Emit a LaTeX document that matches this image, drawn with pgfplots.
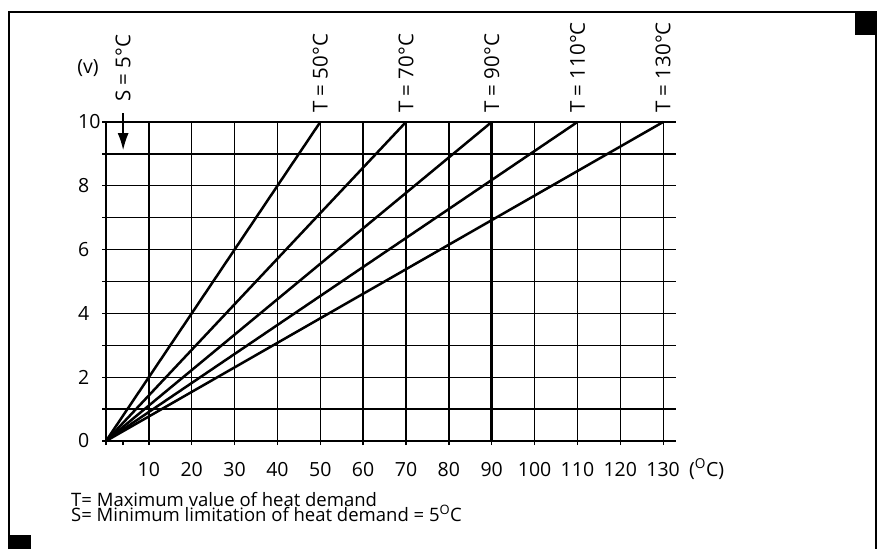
\documentclass[border=0pt]{standalone}
\usepackage{fontspec}
\setmainfont{Open Sans}
\usepackage{pgfplots}
\pgfplotsset{compat=1.18}
\usetikzlibrary{arrows.meta}
\begin{document}
\fontsize{18.5}{21}\selectfont
\begin{tikzpicture}[x=1pt,y=1pt]
\useasboundingbox (0,0) rectangle (877,549);
% frame
\draw[line width=2pt] (9,0) -- (9,537) -- (877,537);
\draw[line width=2pt] (876,537) -- (876,0);
\fill (8,0) rectangle (31,14);
\fill (855,537) rectangle (877,514);
\begin{axis}[
  at={(106pt,108pt)}, anchor=south west,
  scale only axis, width=570pt, height=319pt,
  xmin=0, xmax=133, ymin=0, ymax=10,
  clip=false,
  axis lines=left,
  axis line style={-, line width=1.3pt, black},
  grid=major,
  grid style={line width=1.3pt, black},
  tick align=outside,
  major tick length=4pt,
  tick style={line width=1.3pt, black},
  xtick={0,10,20,30,40,50,60,70,80,90,100,110,120,130},
  xticklabels={,10,20,30,40,50,60,70,80,90,100,110,120,130},
  extra x ticks={4},
  extra x tick labels={},
  extra x tick style={grid=none},
  ytick={0,1,2,3,4,5,6,7,8,9,10},
  yticklabels={0,,2,,4,,6,,8,,10},
  xticklabel style={anchor=north, inner sep=0pt, yshift=-17pt, font=\fontsize{19.5}{22}\selectfont},
  yticklabel style={anchor=west, inner sep=0pt, xshift=-24pt, font=\fontsize{19.5}{22}\selectfont},
]
\addplot[line width=2.5pt, black] coordinates {(0,0) (50,10)};
\addplot[line width=2.5pt, black] coordinates {(0,0) (70,10)};
\addplot[line width=2.5pt, black] coordinates {(0,0) (90,10)};
\addplot[line width=2.5pt, black] coordinates {(0,0) (110,10)};
\addplot[line width=2.5pt, black] coordinates {(0,0) (130,10)};
\addplot[line width=2.5pt, black] coordinates {(90,0) (90,10)};
\addplot[line width=1.3pt, black, -{Latex[length=17pt,width=11pt]}] coordinates {(4,10.28) (4,9.12)};
\coordinate (s) at (axis cs:4,10);
\coordinate (t50) at (axis cs:50,10);
\coordinate (t70) at (axis cs:70,10);
\coordinate (t90) at (axis cs:90,10);
\coordinate (t110) at (axis cs:110,10);
\coordinate (t130) at (axis cs:130,10);
\end{axis}
\begin{scope}[every node/.style={font=\fontsize{20.5}{24}\selectfont, rotate=90, anchor=west, inner sep=0pt}]
\node at ([yshift=20pt]s) {S = 5°C};
\node at ([yshift=9pt]t50) {T = 50°C};
\node at ([yshift=9pt]t70) {T = 70°C};
\node at ([yshift=9pt]t90) {T = 90°C};
\node at ([yshift=9pt]t110) {T = 110°C};
\node at ([yshift=9pt]t130) {T = 130°C};
\end{scope}
\node[font=\fontsize{19.5}{22}\selectfont] at (88,481) {(v)};
\node[anchor=base west, inner sep=0pt, font=\fontsize{19.5}{22}\selectfont] at (689,73) {(\textsuperscript{O}C)};
\node[anchor=base west, inner sep=0pt] at (71,43) {T= Maximum value of heat demand};
\node[anchor=base west, inner sep=0pt] at (71,28) {S= Minimum limitation of heat demand = 5\textsuperscript{O}C};
\end{tikzpicture}
\end{document}
